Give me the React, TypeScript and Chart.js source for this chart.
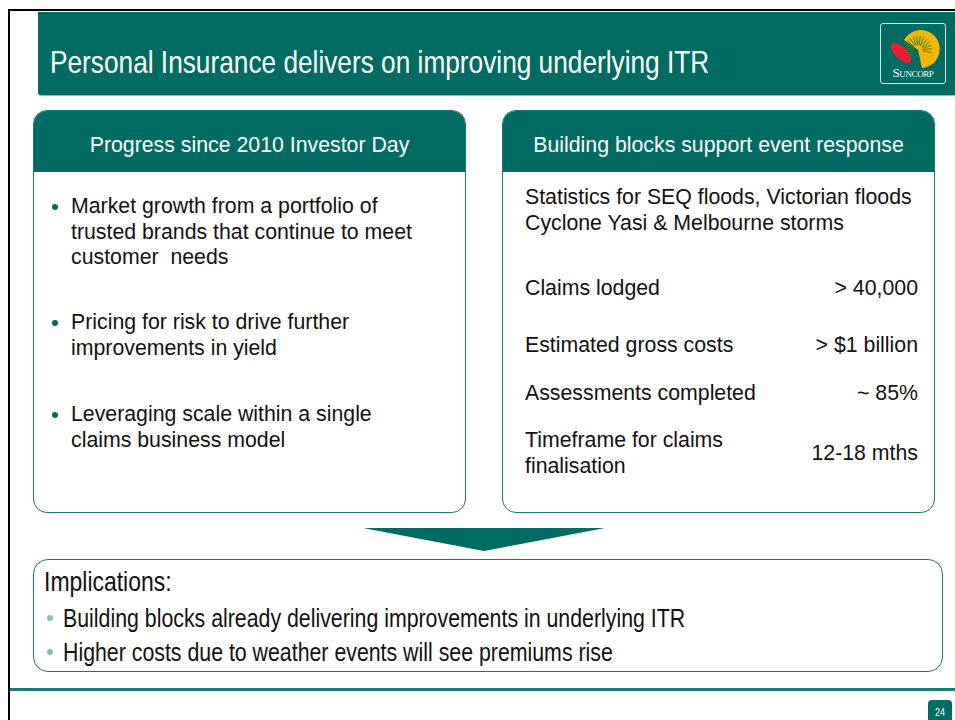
import React, { useEffect, useRef } from "react";
import { Chart, registerables } from "chart.js";

Chart.register(...registerables);

// ---- content ----
const slideTitle = "Personal Insurance delivers on improving underlying ITR";
const leftHeader = "Progress since 2010 Investor Day";
const rightHeader = "Building blocks support event response";
const leftBullets = [
  ["Market growth from a portfolio of", "trusted brands that continue to meet", "customer  needs"],
  ["Pricing for risk to drive further", "improvements in yield"],
  ["Leveraging scale within a single", "claims business model"],
];
const statsIntro = ["Statistics for SEQ floods, Victorian floods", "Cyclone Yasi & Melbourne storms"];
const statLabels = [["Claims lodged"], ["Estimated gross costs"], ["Assessments completed"], ["Timeframe for claims", "finalisation"]];
const statValues = ["> 40,000", "> $1 billion", "~ 85%", "12-18 mths"];
const implicationsTitle = "Implications:";
const implications = [
  "Building blocks already delivering improvements in underlying ITR",
  "Higher costs due to weather events will see premiums rise",
];
const pageNumber = "24";

// arrow shape series (chevron pointing down)
const arrowCategories = [0, 1, 2];
const arrowValues = [1, 0, 1];

const GREEN = "#006b62";
const BORDER = "#17786f";
const SANS = '"Liberation Sans", Arial, Helvetica, sans-serif';
const NARROW_SCALE = 0.82;

const narrowStyle = (size: number): React.CSSProperties => ({
  position: "absolute",
  fontFamily: SANS,
  fontSize: size,
  whiteSpace: "nowrap",
  transform: `scaleX(${NARROW_SCALE})`,
  transformOrigin: "0 0",
});

function Arrow() {
  const ref = useRef<HTMLCanvasElement>(null);
  useEffect(() => {
    if (!ref.current) return;
    const chart = new Chart(ref.current, {
      type: "line",
      data: {
        labels: arrowCategories,
        datasets: [
          {
            data: arrowCategories.map((x, i) => ({ x, y: arrowValues[i] })),
            borderWidth: 0,
            borderColor: GREEN,
            backgroundColor: GREEN,
            pointRadius: 0,
            fill: "end",
            tension: 0,
          },
        ],
      },
      options: {
        animation: false,
        responsive: false,
        maintainAspectRatio: false,
        layout: { padding: 0 },
        plugins: { legend: { display: false }, tooltip: { enabled: false } },
        scales: {
          x: { type: "linear", min: 0, max: 2, display: false },
          y: { min: 0, max: 1, display: false },
        },
      },
    });
    return () => chart.destroy();
  }, []);
  return (
    <canvas
      ref={ref}
      width={242}
      height={23}
      style={{ position: "absolute", left: 363, top: 528, width: 242, height: 23 }}
    />
  );
}

function Logo() {
  const rays = [];
  for (let i = 0; i < 16; i++) {
    const a = (-215 + i * 15) * (Math.PI / 180);
    rays.push(
      <line
        key={i}
        x1={38 + Math.cos(a) * 5}
        y1={27 + Math.sin(a) * 5}
        x2={38 + Math.cos(a) * 14}
        y2={27 + Math.sin(a) * 14}
        stroke="#3c7f2a"
        strokeWidth={1}
      />
    );
  }
  return (
    <div
      style={{
        position: "absolute",
        left: 880,
        top: 23,
        width: 66,
        height: 61,
        border: "1px solid #d8e8e5",
        borderRadius: 3,
        boxSizing: "border-box",
      }}
    >
      <svg width={66} height={61} style={{ position: "absolute", left: -1, top: -1 }}>
        <path d="M 24 17 A 19 19 0 1 1 42 45 L 38 27 Z" fill="#f2b705" />
        {rays}
        <ellipse cx={21} cy={30} rx={13} ry={6} transform="rotate(45 21 30)" fill="#e8202f" />
      </svg>
      <div
        style={{
          position: "absolute",
          left: 0,
          width: 64,
          top: 42,
          textAlign: "center",
          color: "#ffffff",
          fontFamily: '"Liberation Serif", "DejaVu Serif", serif',
          fontSize: 13,
          fontVariant: "small-caps",
          letterSpacing: -0.4,
          lineHeight: "13px",
        }}
      >
        Suncorp
      </div>
    </div>
  );
}

function Box({ left, header }: { left: number; header: string }) {
  return (
    <div
      style={{
        position: "absolute",
        left,
        top: 110,
        width: 433,
        height: 403,
        border: `1.5px solid ${BORDER}`,
        borderRadius: 14,
        boxSizing: "border-box",
        overflow: "hidden",
      }}
    >
      <div
        style={{
          height: 61,
          background: GREEN,
          color: "#fff",
          fontFamily: SANS,
          fontSize: 21.3,
          lineHeight: "68px",
          textAlign: "center",
          whiteSpace: "nowrap",
        }}
      >
        {header}
      </div>
    </div>
  );
}

const textStyle: React.CSSProperties = {
  position: "absolute",
  fontFamily: SANS,
  fontSize: 21.3,
  lineHeight: "25.5px",
  color: "#111",
  whiteSpace: "nowrap",
};

export default function App() {
  const bulletTops = [194, 310, 402];
  const statTops = [276, 333, 381, 428];
  return (
    <div
      style={{
        position: "fixed",
        left: 0,
        top: 0,
        width: 955,
        height: 720,
        background: "#fff",
        overflow: "hidden",
      }}
    >
      {/* frame */}
      <div style={{ position: "absolute", left: 8, top: 9, width: 947, height: 2, background: "#000" }} />
      <div style={{ position: "absolute", left: 8, top: 9, width: 2, height: 711, background: "#000" }} />

      {/* title band */}
      <div
        style={{
          position: "absolute",
          left: 38,
          top: 12,
          width: 917,
          height: 83,
          background: GREEN,
          borderBottomLeftRadius: 3,
          boxShadow: "0 1px 1px rgba(0,0,0,0.35)",
        }}
      />
      <div style={{ ...narrowStyle(32), left: 50, top: 44, color: "#fff", lineHeight: "37px" }}>{slideTitle}</div>
      <Logo />

      {/* boxes */}
      <Box left={33} header={leftHeader} />
      <Box left={502} header={rightHeader} />

      {leftBullets.map((lines, i) => (
        <React.Fragment key={i}>
          <div
            style={{
              position: "absolute",
              left: 52,
              top: bulletTops[i] + 10,
              width: 6,
              height: 6,
              borderRadius: 3,
              background: GREEN,
            }}
          />
          <div style={{ ...textStyle, left: 71, top: bulletTops[i] }}>
            {lines.map((l, j) => (
              <div key={j} style={{ whiteSpace: "pre" }}>
                {l}
              </div>
            ))}
          </div>
        </React.Fragment>
      ))}

      <div style={{ ...textStyle, left: 525, top: 185 }}>
        {statsIntro.map((l, j) => (
          <div key={j}>{l}</div>
        ))}
      </div>
      {statLabels.map((lines, i) => (
        <React.Fragment key={i}>
          <div style={{ ...textStyle, left: 525, top: statTops[i] }}>
            {lines.map((l, j) => (
              <div key={j}>{l}</div>
            ))}
          </div>
          <div
            style={{
              ...textStyle,
              right: 955 - 918,
              top: statTops[i] + (lines.length - 1) * 12.75,
              textAlign: "right",
            }}
          >
            {statValues[i]}
          </div>
        </React.Fragment>
      ))}

      <Arrow />

      {/* implications */}
      <div
        style={{
          position: "absolute",
          left: 33,
          top: 559,
          width: 910,
          height: 113,
          border: `1.5px solid ${BORDER}`,
          borderRadius: 15,
          boxSizing: "border-box",
        }}
      />
      <div style={{ ...narrowStyle(28), left: 44, top: 565, lineHeight: "34px", color: "#111" }}>
        {implicationsTitle}
      </div>
      {implications.map((t, i) => (
        <React.Fragment key={i}>
          <div
            style={{
              position: "absolute",
              left: 47,
              top: 615 + i * 34,
              width: 6,
              height: 6,
              borderRadius: 3,
              background: "#8fbcb7",
            }}
          />
          <div style={{ ...narrowStyle(26), left: 63, top: 602 + i * 34, lineHeight: "32px", color: "#111" }}>
            {t}
          </div>
        </React.Fragment>
      ))}

      {/* footer */}
      <div style={{ position: "absolute", left: 10, top: 688, width: 945, height: 3, background: "#1a7a71" }} />
      <div
        style={{
          position: "absolute",
          left: 928,
          top: 700,
          width: 24,
          height: 20,
          background: GREEN,
          borderTopLeftRadius: 4,
          borderTopRightRadius: 4,
        }}
      />
      <div style={{ ...narrowStyle(11), left: 935, top: 704, lineHeight: "16px", color: "#fff" }}>{pageNumber}</div>
    </div>
  );
}
